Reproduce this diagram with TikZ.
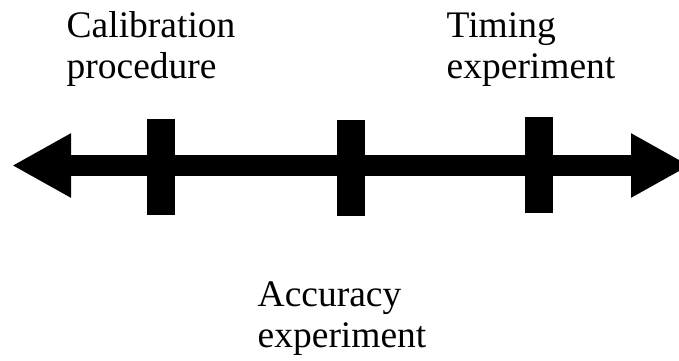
\documentclass[tikz,border=0pt]{standalone}
\usepackage{fontspec}
\setmainfont{Liberation Serif}
\usetikzlibrary{arrows.meta}
\begin{document}
\begin{tikzpicture}[x=1pt,y=-1pt,
  lbl/.style={anchor=base west,inner sep=0pt,align=left,font=\fontsize{37.5}{40.5}\selectfont},
  tick/.style={fill=black,inner sep=0pt,minimum width=28pt,minimum height=96pt},
  axis/.style={line width=21pt,{Triangle[length=59pt,width=60pt]}-{Triangle[length=59pt,width=60pt]}}]
\useasboundingbox (0,0) rectangle (679,360);
\coordinate (L) at (12,165.5);
\coordinate (R) at (690,165.5);
\draw[axis] (L) -- (R);
\node[tick] (t1) at (160.5,167) {};
\node[tick] (t2) at (350.8,167.6) {};
\node[tick] (t3) at (539,165) {};
\node[lbl] (cal) at (66.5,78) {Calibration\\procedure};
\node[lbl] (tim) at (446.5,78) {Timing\\experiment};
\node[lbl] (acc) at (257.5,347) {Accuracy\\experiment};
\end{tikzpicture}
\end{document}
